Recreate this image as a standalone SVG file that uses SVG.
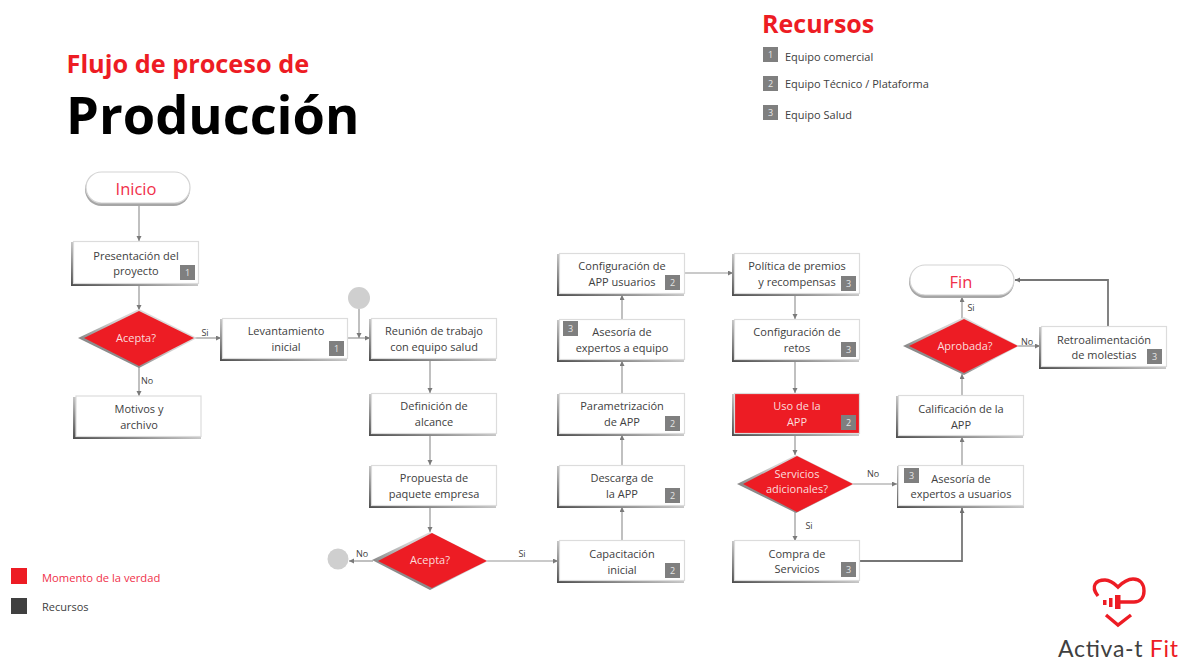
<svg xmlns="http://www.w3.org/2000/svg" width="1180" height="658" viewBox="0 0 1180 658">
<style>
text{font-family:"Open Sans","Noto Sans","DejaVu Sans",sans-serif}
.t{font-size:11px;fill:#404040;text-anchor:middle}
.w{font-size:11px;fill:#fbdcdc;text-anchor:middle}
.l{font-size:9px;fill:#404040;text-anchor:middle}
.n{font-size:9px;fill:#e6e6e6;text-anchor:middle}
.b{fill:#7f7f7f}
.s{fill:url(#sh)}
.box{fill:#fff;stroke:#dcdcdc;stroke-width:1.2}
.red{fill:#ed1c24}
.term{fill:#fff;stroke:#d4d4d4;stroke-width:1.2}
.tt{font-size:16.5px;fill:#f0304a;text-anchor:middle}
.c{fill:none;stroke:#969696;stroke-width:1.2;marker-end:url(#a)}
.d{fill:none;stroke:#767676;stroke-width:1.8;marker-end:url(#a2)}
.dot{fill:#cfcfcf}
.res{font-size:11px;fill:#404040}
.logo{fill:none;stroke:#ed1c24;stroke-width:3.4}
</style>
<defs>
<linearGradient id="sh" x1="0" y1="1" x2="1" y2="0"><stop offset="0" stop-color="#4d4d4d"/><stop offset=".55" stop-color="#d0d0d0"/><stop offset="1" stop-color="#e8e8e8"/></linearGradient>
<marker id="a" markerWidth="6" markerHeight="6" refX="5" refY="2.5" orient="auto" markerUnits="userSpaceOnUse"><path d="M0 0L5 2.5L0 5z" fill="#7a7a7a"/></marker>
<marker id="a2" markerWidth="6" markerHeight="6" refX="5" refY="2.5" orient="auto" markerUnits="userSpaceOnUse"><path d="M0 0L5 2.5L0 5z" fill="#6f6f6f"/></marker>
</defs>

<g id="titulo">
<text x="66.500" y="73" font-size="25.3" font-weight="700" fill="#ed1c24">Flujo de proceso de</text>
<text x="66" y="134" font-size="52.400" font-weight="700" fill="#000">Producción</text>
</g>
<g id="recursos">
<text x="762" y="33" font-size="25" font-weight="700" fill="#ed1c24">Recursos</text>
<rect class="b" x="763" y="47" width="15" height="15"/><text class="n" x="770.500" y="58">1</text><text class="res" x="785" y="61">Equipo comercial</text>
<rect class="b" x="763" y="76" width="15" height="15"/><text class="n" x="770.500" y="87">2</text><text class="res" x="785" y="88">Equipo Técnico / Plataforma</text>
<rect class="b" x="763" y="105" width="15" height="15"/><text class="n" x="770.500" y="116">3</text><text class="res" x="785" y="119">Equipo Salud</text>
</g>
<g id="leyenda">
<rect x="11" y="568" width="16" height="16" fill="#ed1c24"/><text x="42" y="582" font-size="11.200" fill="#f0304a">Momento de la verdad</text>
<rect x="11" y="598" width="16" height="16" fill="#404040"/><text x="42" y="611" font-size="11" fill="#404040">Recursos</text>
</g>

<g id="conectores">
<path class="c" d="M139 205V241"/>
<path class="c" d="M139 285V310"/>
<path class="c" d="M194 338H221"/>
<path class="c" d="M139 367V396"/>
<path class="c" d="M347 338H370"/>
<path class="c" d="M359 309V338"/>
<path class="c" d="M430 360V393"/>
<path class="c" d="M430 435V465"/>
<path class="c" d="M430 507V532"/>
<path class="c" d="M373 561H349"/>
<path class="c" d="M487 561H558"/>
<path class="c" d="M622 541V507"/>
<path class="c" d="M622 465V435"/>
<path class="c" d="M622 393V361"/>
<path class="c" d="M622 319V295"/>
<path class="c" d="M684 273H733"/>
<path class="c" d="M795 295V319"/>
<path class="c" d="M795 361V393"/>
<path class="c" d="M795 435V455"/>
<path class="c" d="M795 512V541"/>
<path class="c" d="M853 484H897"/>
<path class="d" d="M859 561H962V508"/>
<path class="c" d="M962 465V437"/>
<path class="c" d="M962 395V374"/>
<path class="c" d="M962 318V297"/>
<path class="c" d="M1018 346H1040"/>
<path class="d" d="M1108 327V280H1015"/>
<text class="l" x="205" y="336">Si</text>
<text class="l" x="147" y="384">No</text>
<text class="l" x="362" y="557">No</text>
<text class="l" x="522" y="557">Si</text>
<text class="l" x="873" y="477">No</text>
<text class="l" x="809" y="529">Si</text>
<text class="l" x="971" y="311">Si</text>
<text class="l" x="1027" y="345">No</text>
</g>

<g id="inicio"><rect x="85" y="173" width="105" height="33" rx="16.500" fill="#a6a6a6"/><rect class="term" x="86" y="172" width="104" height="31" rx="15.500"/><text class="tt" x="136" y="195">Inicio</text></g>
<g id="presentacion"><rect class="s" x="71" y="242" width="127" height="44"/><rect class="box" x="73.500" y="241.500" width="125" height="42"/><text class="t" x="136" y="260">Presentación del</text><text class="t" x="136" y="275">proyecto</text><rect class="b" x="180" y="265" width="15" height="15"/><text class="n" x="187.500" y="276">1</text></g>
<g id="acepta1"><polygon class="s" points="78,338 139,309 197,338 139,368"/><polygon class="red" points="84,338 139,311 194,338 139,366"/><text class="w" x="136" y="342">Acepta?</text></g>
<g id="levantamiento"><rect class="s" x="220" y="319" width="127" height="42"/><rect class="box" x="222.500" y="318.500" width="125" height="40"/><text class="t" x="286" y="335">Levantamiento</text><text class="t" x="286" y="351">inicial</text><rect class="b" x="329" y="341" width="15" height="15"/><text class="n" x="336.500" y="352">1</text></g>
<g id="motivos"><rect class="s" x="73" y="397" width="128" height="42"/><rect class="box" x="76" y="396" width="125" height="40.500"/><text class="t" x="139" y="413">Motivos y</text><text class="t" x="139" y="429">archivo</text></g>
<g id="punto1"><circle class="dot" cx="359" cy="298" r="11"/></g>
<g id="reunion"><rect class="s" x="369" y="319" width="127" height="42"/><rect class="box" x="371.500" y="318.500" width="125" height="40"/><text class="t" x="434" y="335">Reunión de trabajo</text><text class="t" x="434" y="351">con equipo salud</text></g>
<g id="definicion"><rect class="s" x="369" y="394" width="127" height="42"/><rect class="box" x="371.500" y="393.500" width="125" height="40"/><text class="t" x="434" y="410">Definición de</text><text class="t" x="434" y="426">alcance</text></g>
<g id="propuesta"><rect class="s" x="369" y="466" width="127" height="42"/><rect class="box" x="371.500" y="465.500" width="125" height="40"/><text class="t" x="434" y="482">Propuesta de</text><text class="t" x="434" y="498">paquete empresa</text></g>
<g id="acepta2"><polygon class="s" points="372,560 430,532 488,561 430,590"/><polygon class="red" points="378,561 432,533 487,561 432,588"/><text class="w" x="430" y="564">Acepta?</text></g>
<g id="punto2"><circle class="dot" cx="338" cy="559" r="10.500"/></g>
<g id="capacitacion"><rect class="s" x="557" y="541" width="127" height="42"/><rect class="box" x="559.500" y="540.500" width="125" height="40"/><text class="t" x="622" y="558">Capacitación</text><text class="t" x="622" y="574">inicial</text><rect class="b" x="665" y="563" width="15" height="15"/><text class="n" x="672.500" y="574">2</text></g>
<g id="descarga"><rect class="s" x="557" y="466" width="127" height="42"/><rect class="box" x="559.500" y="465.500" width="125" height="40"/><text class="t" x="622" y="482">Descarga de</text><text class="t" x="622" y="498">la APP</text><rect class="b" x="665" y="488" width="15" height="15"/><text class="n" x="672.500" y="499">2</text></g>
<g id="parametrizacion"><rect class="s" x="557" y="394" width="127" height="42"/><rect class="box" x="559.500" y="393.500" width="125" height="40"/><text class="t" x="622" y="410">Parametrización</text><text class="t" x="622" y="426">de APP</text><rect class="b" x="665" y="416" width="15" height="15"/><text class="n" x="672.500" y="427">2</text></g>
<g id="asesoria-equipo"><rect class="s" x="557" y="320" width="127" height="42"/><rect class="box" x="559.500" y="319.500" width="125" height="40"/><text class="t" x="622" y="336">Asesoría de</text><text class="t" x="622" y="352">expertos a equipo</text><rect class="b" x="563" y="321" width="15" height="15"/><text class="n" x="570.500" y="332">3</text></g>
<g id="configuracion-app"><rect class="s" x="557" y="254" width="127" height="42"/><rect class="box" x="559.500" y="253.500" width="125" height="40"/><text class="t" x="622" y="270">Configuración de</text><text class="t" x="622" y="286">APP usuarios</text><rect class="b" x="665" y="275" width="15" height="15"/><text class="n" x="672.500" y="286">2</text></g>
<g id="politica"><rect class="s" x="732" y="254" width="127" height="42"/><rect class="box" x="734.500" y="253.500" width="125" height="40"/><text class="t" x="797" y="270">Política de premios</text><text class="t" x="797" y="286">y recompensas</text><rect class="b" x="841" y="276" width="15" height="15"/><text class="n" x="848.500" y="287">3</text></g>
<g id="retos"><rect class="s" x="732" y="320" width="127" height="42"/><rect class="box" x="734.500" y="319.500" width="125" height="40"/><text class="t" x="797" y="336">Configuración de</text><text class="t" x="797" y="352">retos</text><rect class="b" x="841" y="342" width="15" height="15"/><text class="n" x="848.500" y="353">3</text></g>
<g id="uso"><rect class="s" x="732" y="394" width="127" height="42"/><rect x="734.500" y="393.500" width="125" height="40" fill="#ed1c24" stroke="#dcdcdc" stroke-width="1.200"/><text class="w" x="797" y="410">Uso de la</text><text class="w" x="797" y="426">APP</text><rect class="b" x="841" y="415" width="15" height="15"/><text class="n" x="848.500" y="426">2</text></g>
<g id="servicios"><polygon class="s" points="737,484 796,455 854,484 796,513"/><polygon class="red" points="743,484 797,456 853,484 797,512"/><text class="w" x="797" y="478">Servicios</text><text class="w" x="797" y="493">adicionales?</text></g>
<g id="compra"><rect class="s" x="732" y="541" width="127" height="42"/><rect class="box" x="734.500" y="540.500" width="125" height="40"/><text class="t" x="797" y="558">Compra de</text><text class="t" x="797" y="573">Servicios</text><rect class="b" x="841" y="562" width="15" height="15"/><text class="n" x="848.500" y="573">3</text></g>
<g id="asesoria-usuarios"><rect class="s" x="897" y="466" width="127" height="42"/><rect class="box" x="898.500" y="465.500" width="125" height="40"/><text class="t" x="961" y="483">Asesoría de</text><text class="t" x="961" y="498">expertos a usuarios</text><rect class="b" x="904" y="468" width="15" height="15"/><text class="n" x="911.500" y="479">3</text></g>
<g id="calificacion"><rect class="s" x="896" y="396" width="127" height="42"/><rect class="box" x="898.500" y="395.500" width="125" height="40"/><text class="t" x="961" y="413">Calificación de la</text><text class="t" x="961" y="429">APP</text></g>
<g id="aprobada"><polygon class="s" points="903,346 964,317 1019,346 964,375"/><polygon class="red" points="909,346 964,319 1018,346 964,373"/><text class="w" x="965" y="350">Aprobada?</text></g>
<g id="fin"><rect x="909" y="266" width="105" height="32" rx="16" fill="#a6a6a6"/><rect class="term" x="910" y="265" width="104" height="30" rx="15"/><text class="tt" x="961" y="288">Fin</text></g>
<g id="retroalimentacion"><rect class="s" x="1039" y="327" width="127" height="42"/><rect class="box" x="1041.500" y="326.500" width="125" height="40"/><text class="t" x="1104" y="344">Retroalimentación</text><text class="t" x="1104" y="359">de molestias</text><rect class="b" x="1147" y="349" width="15" height="15"/><text class="n" x="1154.500" y="360">3</text></g>

<g id="logo">
<path class="logo" d="M1098 596C1090 586 1096 580 1105 580C1110 580 1114 583 1118 587C1122 583 1127 579 1133 579C1141 579 1144 585 1144 591C1144 598 1140 602 1134 602H1118"/>
<rect x="1115" y="595" width="5.500" height="14" fill="#ed1c24"/>
<rect x="1109" y="598" width="3.500" height="9" fill="#ed1c24"/>
<rect x="1103" y="600" width="3.500" height="5" fill="#ed1c24"/>
<path class="logo" d="M1106 615L1118 625L1131 615"/>
<text x="1058" y="657" font-size="23" textLength="120" lengthAdjust="spacing" style="font-family:Lato,'Open Sans',sans-serif" fill="#404040">Activa-t <tspan fill="#ed1c24">Fit</tspan></text>
</g>
</svg>
